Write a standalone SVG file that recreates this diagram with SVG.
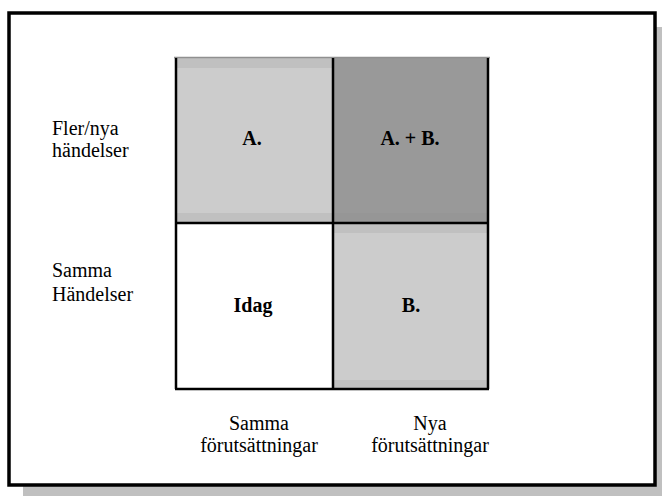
<svg xmlns="http://www.w3.org/2000/svg" width="662" height="496" viewBox="0 0 662 496">
<style>
.lbl{font-family:"Liberation Serif","Times New Roman",serif;font-size:20px;fill:#000}
.b{font-weight:bold;text-anchor:middle}
.m{text-anchor:middle}
.edge{stroke:#000;stroke-width:2.5;fill:none}
</style>
<rect x="23" y="27" width="639" height="469" fill="#c0c0c0"/>
<rect x="9" y="13" width="646" height="472" fill="#fff" stroke="#000" stroke-width="3.5"/>
<g id="cellA">
<rect x="175" y="58" width="158" height="165" fill="#c0c0c0"/>
<rect x="175" y="68" width="158" height="145" fill="#cccccc"/>
<text class="lbl b" x="252" y="145">A.</text>
</g>
<g id="cellAB">
<rect x="333" y="58" width="156" height="165" fill="#969696"/>
<rect x="333" y="58" width="156" height="155" fill="#999999"/>
<text class="lbl b" x="410" y="145">A. + B.</text>
</g>
<g id="cellIdag">
<rect x="175" y="223" width="158" height="166" fill="#ffffff"/>
<text class="lbl b" x="253" y="312">Idag</text>
</g>
<g id="cellB">
<rect x="333" y="223" width="156" height="166" fill="#c0c0c0"/>
<rect x="333" y="233" width="156" height="147" fill="#cccccc"/>
<text class="lbl b" x="411" y="312">B.</text>
</g>
<g id="connectors">
<line x1="174" y1="57.5" x2="490" y2="57.5" stroke="#909090" stroke-width="1.5"/>
<line class="edge" x1="176" y1="58" x2="176" y2="389"/>
<line class="edge" x1="333" y1="58" x2="333" y2="389"/>
<line class="edge" x1="488" y1="58" x2="488" y2="389"/>
<line class="edge" x1="175" y1="223" x2="489" y2="223"/>
<line class="edge" x1="175" y1="389" x2="489" y2="389"/>
</g>
<g id="rowLabels">
<text class="lbl" x="52" y="135">Fler/nya</text>
<text class="lbl" x="52" y="157">händelser</text>
<text class="lbl" x="52" y="277">Samma</text>
<text class="lbl" x="52" y="301">Händelser</text>
</g>
<g id="colLabels">
<text class="lbl m" x="259" y="430">Samma</text>
<text class="lbl m" x="259" y="452">förutsättningar</text>
<text class="lbl m" x="430" y="430">Nya</text>
<text class="lbl m" x="430" y="452">förutsättningar</text>
</g>
</svg>
